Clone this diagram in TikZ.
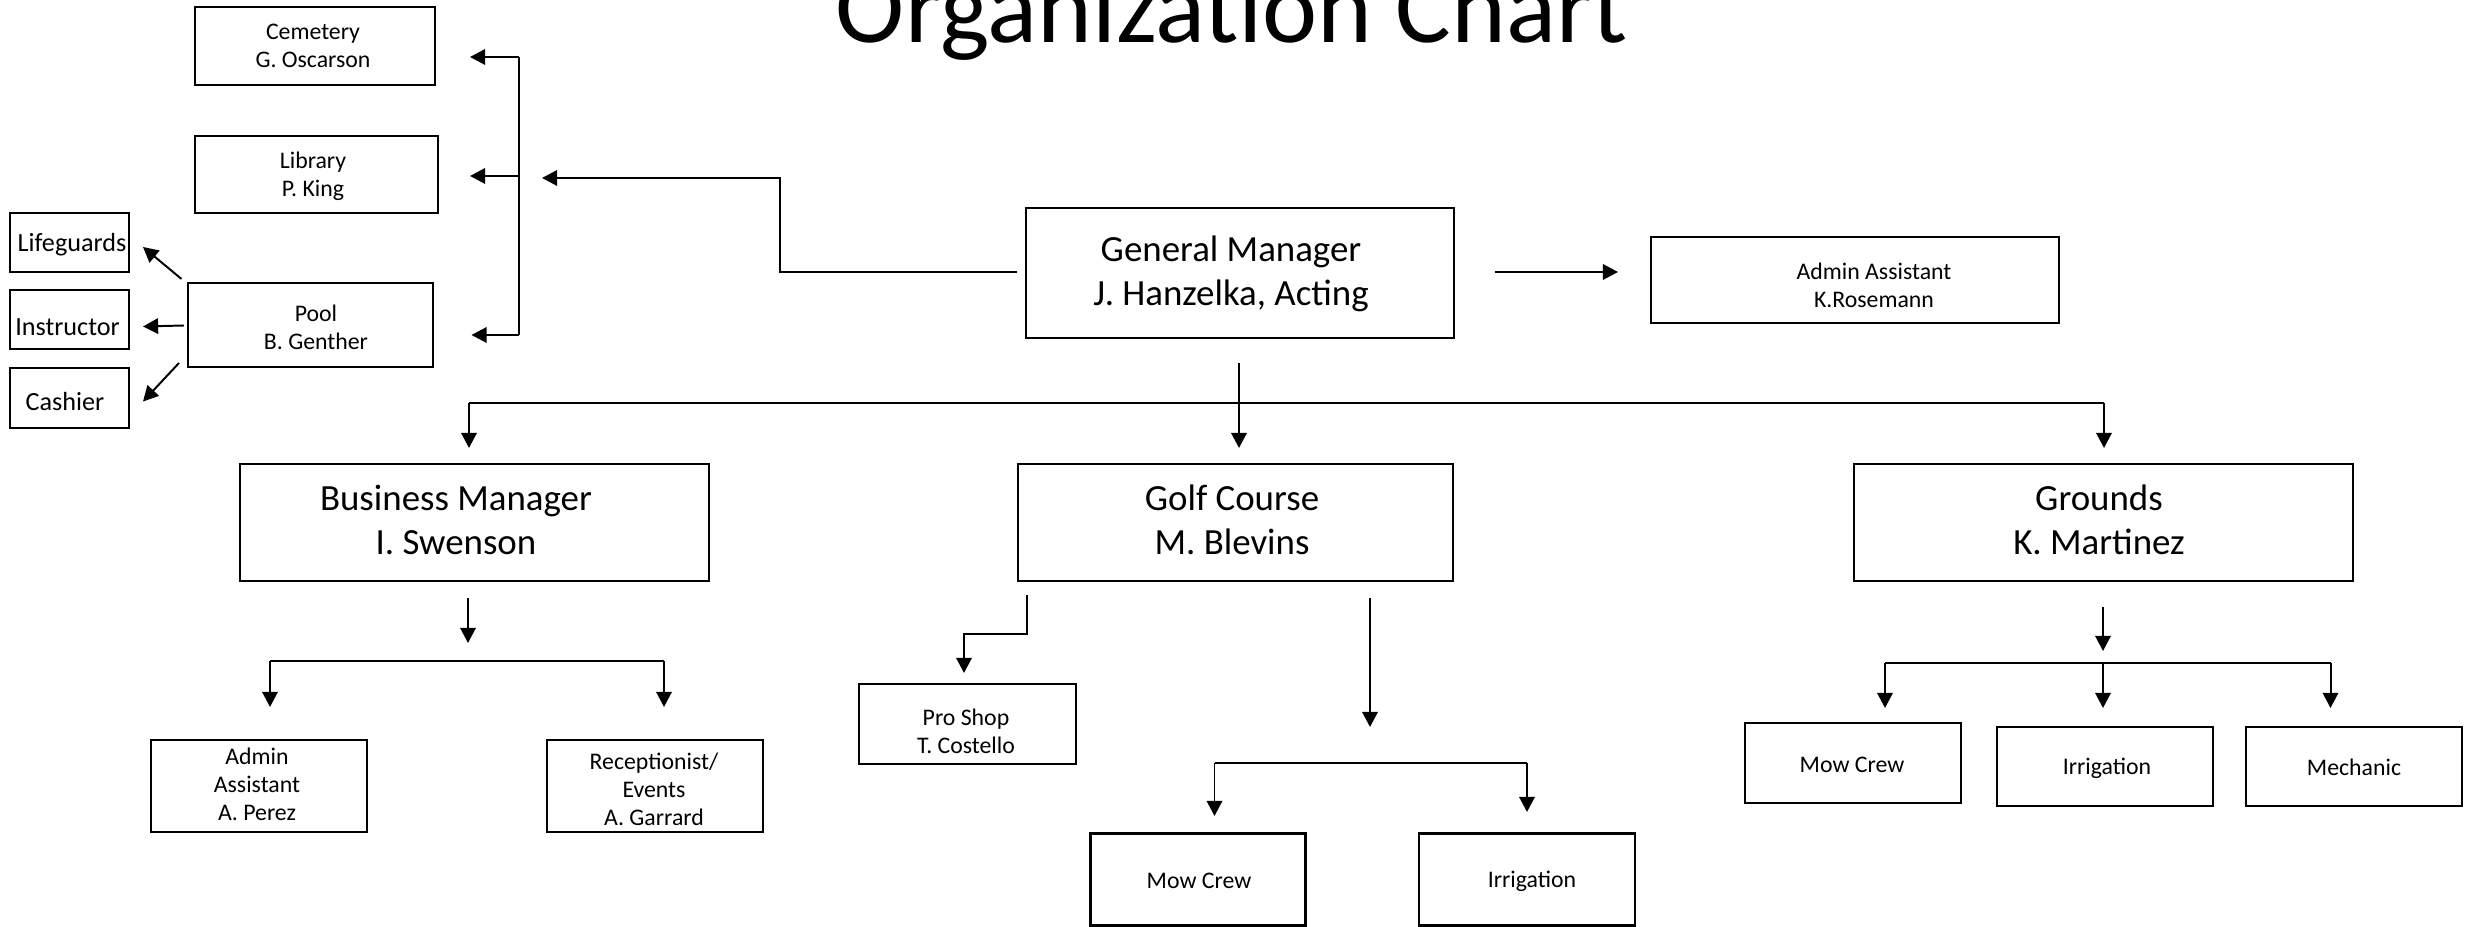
\documentclass[tikz,border=0pt]{standalone}
\usepackage{fontspec}
\setmainfont{Carlito}
\usetikzlibrary{arrows.meta,calc}
\tikzset{
  bx/.style={draw,line width=0.82pt,inner sep=0pt},
  conn/.style={line width=0.56pt},
  arr/.style={conn,-{Triangle[length=4.3pt,width=4.4pt]}},
  big/.style={align=center,font=\fontsize{10.5}{12.5}\selectfont,inner sep=0pt},
  sml/.style={align=center,font=\fontsize{6.77}{7.97}\selectfont,inner sep=0pt},
  kid/.style={align=center,font=\fontsize{7.45}{8.8}\selectfont,inner sep=0pt},
  ttl/.style={font=\fontsize{29.7}{35}\selectfont,inner sep=0pt,anchor=base},
}
\newcommand\ubox[9]{%
  \node[bx,minimum width=#4*0.1mm,minimum height=#5*0.1mm] (#1) at (#2,#3) {};
  \node[#8] (#1t) at (#6,#7) {#9};}
\begin{document}
\begin{tikzpicture}[x=0.1mm,y=-0.1mm]
\useasboundingbox[fill=white] (0,0) rectangle (2474,927);
\node[ttl] (title) at (1232,42.5) {Organization Chart};
% boxes: name, cx, cy, w, h, tx, ty, style, text
\ubox{cem}{315}{46}{240}{78}{313}{46}{sml}{Cemetery\\G. Oscarson}
\ubox{lib}{316.5}{174.5}{243}{77}{313}{176}{sml}{Library\\P. King}
\ubox{pool}{310.5}{325}{245}{84}{316}{327}{sml}{Pool\\B. Genther}
\ubox{life}{69.5}{242.5}{119}{59}{72}{245}{kid}{Lifeguards}
\ubox{instr}{69.5}{319.5}{119}{59}{67.5}{327}{kid}{Instructor}
\ubox{cash}{69.5}{398}{119}{60}{65}{402}{kid}{Cashier}
\ubox{gm}{1240}{273}{428}{130}{1231}{273.5}{big}{General Manager\\J. Hanzelka, Acting}
\ubox{aa}{1855}{280}{408}{86}{1874}{285}{sml}{Admin Assistant\\K.Rosemann}
\ubox{bm}{474.5}{522.5}{469}{117}{456}{520}{big}{Business Manager\\I. Swenson}
\ubox{gc}{1235.5}{522.5}{435}{117}{1232}{520}{big}{Golf Course\\M. Blevins}
\ubox{gr}{2103.5}{522.5}{499}{117}{2099}{520}{big}{Grounds\\K. Martinez}
\ubox{ap}{259}{786}{216}{92}{257}{784}{sml}{Admin\\Assistant\\A. Perez}
\ubox{rec}{655}{786}{216}{92}{654}{789}{sml}{Receptionist/\\Events\\A. Garrard}
\ubox{ps}{967.5}{724}{217}{80}{966}{731}{sml}{Pro Shop\\T. Costello}
\ubox{gmow}{1198}{879.5}{215}{92}{1199}{881}{sml}{Mow Crew}
\ubox{girr}{1527}{879.5}{216}{92}{1532}{881}{sml}{Irrigation}
\ubox{rmow}{1853}{763}{216}{80}{1852}{765}{sml}{Mow Crew}
\ubox{rirr}{2105}{766.5}{216}{79}{2107}{768}{sml}{Irrigation}
\ubox{mech}{2354}{766.5}{216}{79}{2354}{767}{sml}{Mechanic}
% coordinates
\coordinate (gmw) at (1017,272);
\coordinate (gmj) at (780,272);
\coordinate (brkin) at (542,178);
\coordinate (brkt) at (519,57);
\coordinate (brkm) at (519,176);
\coordinate (brkb) at (519,335);
\coordinate (cemin) at (470,57);
\coordinate (libin) at (470,176);
\coordinate (poolin) at (471.5,335);
\coordinate (pl1) at (181.5,279);
\coordinate (pl2) at (184,325.5);
\coordinate (pl3) at (179,363);
\coordinate (lifein) at (143,247);
\coordinate (instrin) at (143,326.5);
\coordinate (cashin) at (143,401.5);
\coordinate (gme) at (1495,272);
\coordinate (aain) at (1618,272);
\coordinate (gms) at (1239,363);
\coordinate (busl) at (469,403);
\coordinate (busr) at (2104,403);
\coordinate (bmin) at (469,448);
\coordinate (gcin) at (1239,448);
\coordinate (grin) at (2104,448);
\coordinate (bms) at (468,598);
\coordinate (bmj) at (468,643);
\coordinate (bml) at (270,661);
\coordinate (bmr) at (664,661);
\coordinate (apin) at (270,707);
\coordinate (recin) at (664,707);
\coordinate (gcs1) at (1027,595);
\coordinate (gcj1) at (1027,634);
\coordinate (gcj2) at (964,634);
\coordinate (psin) at (964,673);
\coordinate (gcs2) at (1370,598);
\coordinate (gcj3) at (1370,727);
\coordinate (gcl) at (1214.5,763);
\coordinate (gcr) at (1527,763);
\coordinate (gmowin) at (1214.5,816);
\coordinate (girrin) at (1527,812);
\coordinate (grs) at (2103,607);
\coordinate (grj) at (2103,651);
\coordinate (grl) at (1885,663);
\coordinate (grm) at (2103,663);
\coordinate (grr) at (2330.5,663);
\coordinate (rmowin) at (1885,708);
\coordinate (rirrin) at (2103,708);
\coordinate (mechin) at (2330.5,708);
% connectors
\draw[arr] (gmw) -- (gmj) |- (brkin);
\draw[conn] (brkt) -- (brkb);
\draw[arr] (brkt) -- (cemin);
\draw[arr] (brkm) -- (libin);
\draw[arr] (brkb) -- (poolin);
\draw[arr] (pl1) -- (lifein);
\draw[arr] (pl2) -- (instrin);
\draw[arr] (pl3) -- (cashin);
\draw[arr] (gme) -- (aain);
\draw[arr] (gms) -- (gcin);
\draw[conn] (busl) -- (busr);
\draw[arr] (busl) -- (bmin);
\draw[arr] (busr) -- (grin);
\draw[arr] (bms) -- (bmj);
\draw[conn] (bml) -- (bmr);
\draw[arr] (bml) -- (apin);
\draw[arr] (bmr) -- (recin);
\draw[arr] (gcs1) -- (gcj1) -- (gcj2) -- (psin);
\draw[arr] (gcs2) -- (gcj3);
\draw[conn] (gcl) -- (gcr);
\draw[arr] (gcl) -- (gmowin);
\draw[arr] (gcr) -- (girrin);
\draw[arr] (grs) -- (grj);
\draw[conn] (grl) -- (grr);
\draw[arr] (grl) -- (rmowin);
\draw[arr] (grm) -- (rirrin);
\draw[arr] (grr) -- (mechin);
\end{tikzpicture}
\end{document}
